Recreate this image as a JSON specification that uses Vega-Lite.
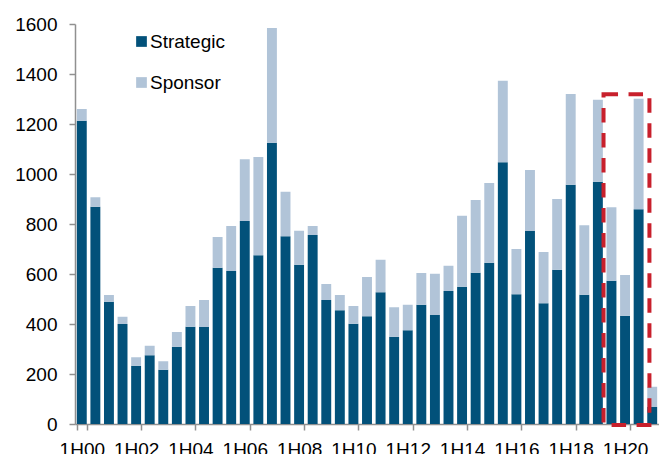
{
  "$schema": "https://vega.github.io/schema/vega-lite/v6.json",
  "width": 584,
  "height": 400,
  "autosize": {"type": "none"},
  "padding": {"left": 75, "top": 24, "right": 0, "bottom": 30},
  "background": "#ffffff",
  "config": {
    "view": {"stroke": null},
    "font": "Liberation Sans",
    "axis": {"labelFont": "Liberation Sans", "labelColor": "#000000", "domainColor": "#909090", "tickColor": "#909090", "domainWidth": 1.5, "tickWidth": 1.5, "grid": false, "title": null}
  },
  "datasets": {
    "bars": [
      {"p":"1H00","t":"Strategic","v":1213},{"p":"1H00","t":"Sponsor","v":47},
      {"p":"2H00","t":"Strategic","v":869},{"p":"2H00","t":"Sponsor","v":38},
      {"p":"1H01","t":"Strategic","v":489},{"p":"1H01","t":"Sponsor","v":27},
      {"p":"2H01","t":"Strategic","v":400},{"p":"2H01","t":"Sponsor","v":29},
      {"p":"1H02","t":"Strategic","v":233},{"p":"1H02","t":"Sponsor","v":34},
      {"p":"2H02","t":"Strategic","v":275},{"p":"2H02","t":"Sponsor","v":38},
      {"p":"1H03","t":"Strategic","v":217},{"p":"1H03","t":"Sponsor","v":34},
      {"p":"2H03","t":"Strategic","v":309},{"p":"2H03","t":"Sponsor","v":59},
      {"p":"1H04","t":"Strategic","v":389},{"p":"1H04","t":"Sponsor","v":83},
      {"p":"2H04","t":"Strategic","v":388},{"p":"2H04","t":"Sponsor","v":108},
      {"p":"1H05","t":"Strategic","v":625},{"p":"1H05","t":"Sponsor","v":123},
      {"p":"2H05","t":"Strategic","v":612},{"p":"2H05","t":"Sponsor","v":180},
      {"p":"1H06","t":"Strategic","v":812},{"p":"1H06","t":"Sponsor","v":247},
      {"p":"2H06","t":"Strategic","v":675},{"p":"2H06","t":"Sponsor","v":393},
      {"p":"1H07","t":"Strategic","v":1125},{"p":"1H07","t":"Sponsor","v":459},
      {"p":"2H07","t":"Strategic","v":751},{"p":"2H07","t":"Sponsor","v":178},
      {"p":"1H08","t":"Strategic","v":637},{"p":"1H08","t":"Sponsor","v":136},
      {"p":"2H08","t":"Strategic","v":756},{"p":"2H08","t":"Sponsor","v":36},
      {"p":"1H09","t":"Strategic","v":496},{"p":"1H09","t":"Sponsor","v":64},
      {"p":"2H09","t":"Strategic","v":455},{"p":"2H09","t":"Sponsor","v":61},
      {"p":"1H10","t":"Strategic","v":401},{"p":"1H10","t":"Sponsor","v":71},
      {"p":"2H10","t":"Strategic","v":431},{"p":"2H10","t":"Sponsor","v":157},
      {"p":"1H11","t":"Strategic","v":527},{"p":"1H11","t":"Sponsor","v":130},
      {"p":"2H11","t":"Strategic","v":349},{"p":"2H11","t":"Sponsor","v":118},
      {"p":"1H12","t":"Strategic","v":375},{"p":"1H12","t":"Sponsor","v":102},
      {"p":"2H12","t":"Strategic","v":477},{"p":"2H12","t":"Sponsor","v":127},
      {"p":"1H13","t":"Strategic","v":436},{"p":"1H13","t":"Sponsor","v":165},
      {"p":"2H13","t":"Strategic","v":532},{"p":"2H13","t":"Sponsor","v":101},
      {"p":"1H14","t":"Strategic","v":549},{"p":"1H14","t":"Sponsor","v":284},
      {"p":"2H14","t":"Strategic","v":605},{"p":"2H14","t":"Sponsor","v":291},
      {"p":"1H15","t":"Strategic","v":645},{"p":"1H15","t":"Sponsor","v":319},
      {"p":"2H15","t":"Strategic","v":1047},{"p":"2H15","t":"Sponsor","v":326},
      {"p":"1H16","t":"Strategic","v":519},{"p":"1H16","t":"Sponsor","v":181},
      {"p":"2H16","t":"Strategic","v":772},{"p":"2H16","t":"Sponsor","v":244},
      {"p":"1H17","t":"Strategic","v":483},{"p":"1H17","t":"Sponsor","v":205},
      {"p":"2H17","t":"Strategic","v":617},{"p":"2H17","t":"Sponsor","v":283},
      {"p":"1H18","t":"Strategic","v":957},{"p":"1H18","t":"Sponsor","v":363},
      {"p":"2H18","t":"Strategic","v":517},{"p":"2H18","t":"Sponsor","v":278},
      {"p":"1H19","t":"Strategic","v":969},{"p":"1H19","t":"Sponsor","v":328},
      {"p":"2H19","t":"Strategic","v":573},{"p":"2H19","t":"Sponsor","v":294},
      {"p":"1H20","t":"Strategic","v":433},{"p":"1H20","t":"Sponsor","v":163},
      {"p":"2H20","t":"Strategic","v":859},{"p":"2H20","t":"Sponsor","v":442},
      {"p":"1H21","t":"Strategic","v":68},{"p":"1H21","t":"Sponsor","v":81}
    ],
    "box": [{"a":"1H19","b":"1H21","top":1319,"bot":-4}]
  },
  "layer": [
    {
      "data": {"name": "bars"},
      "mark": {"type": "bar"},
      "encoding": {
        "x": {
          "field": "p", "type": "ordinal",
          "scale": {
            "domain": ["1H00","2H00","1H01","2H01","1H02","2H02","1H03","2H03","1H04","2H04","1H05","2H05","1H06","2H06","1H07","2H07","1H08","2H08","1H09","2H09","1H10","2H10","1H11","2H11","1H12","2H12","1H13","2H13","1H14","2H14","1H15","2H15","1H16","2H16","1H17","2H17","1H18","2H18","1H19","2H19","1H20","2H20","1H21"],
            "paddingInner": 0.27, "paddingOuter": 0.135
          },
          "axis": {
            "values": ["1H00","1H02","1H04","1H06","1H08","1H10","1H12","1H14","1H16","1H18","1H20"],
            "tickBand": "extent", "tickExtra": false,
            "labelAngle": 0, "labelFontSize": 19, "tickSize": 6, "labelPadding": 10, "labelOverlap": false
          }
        },
        "y": {
          "field": "v", "type": "quantitative", "stack": "zero",
          "scale": {"domain": [0, 1600], "nice": false},
          "axis": {"values": [0,200,400,600,800,1000,1200,1400,1600], "format": "d", "labelFontSize": 19, "tickSize": 6, "labelPadding": 12}
        },
        "color": {
          "field": "t", "type": "nominal",
          "scale": {"domain": ["Strategic", "Sponsor"], "range": ["#02517a", "#b1c4d8"]},
          "legend": {
            "orient": "none", "legendX": 57, "legendY": 8, "title": null, "padding": 0,
            "symbolType": "square", "symbolSize": 115, "symbolStrokeWidth": 0, "symbolOpacity": 1,
            "labelFontSize": 19, "labelFont": "Liberation Sans", "labelColor": "#000000", "labelOffset": -1, "rowPadding": 21
          }
        },
        "order": {"field": "t", "sort": "descending"}
      }
    },
    {
      "data": {"name": "box"},
      "mark": {"type": "rect", "filled": false, "stroke": "#c8202c", "strokeWidth": 4, "strokeDash": [14.5, 10.5]},
      "encoding": {
        "x": {"field": "a", "type": "ordinal", "bandPosition": 1.07},
        "x2": {"field": "b", "bandPosition": 0.22},
        "y": {"field": "top", "type": "quantitative"},
        "y2": {"field": "bot"}
      }
    }
  ]
}
